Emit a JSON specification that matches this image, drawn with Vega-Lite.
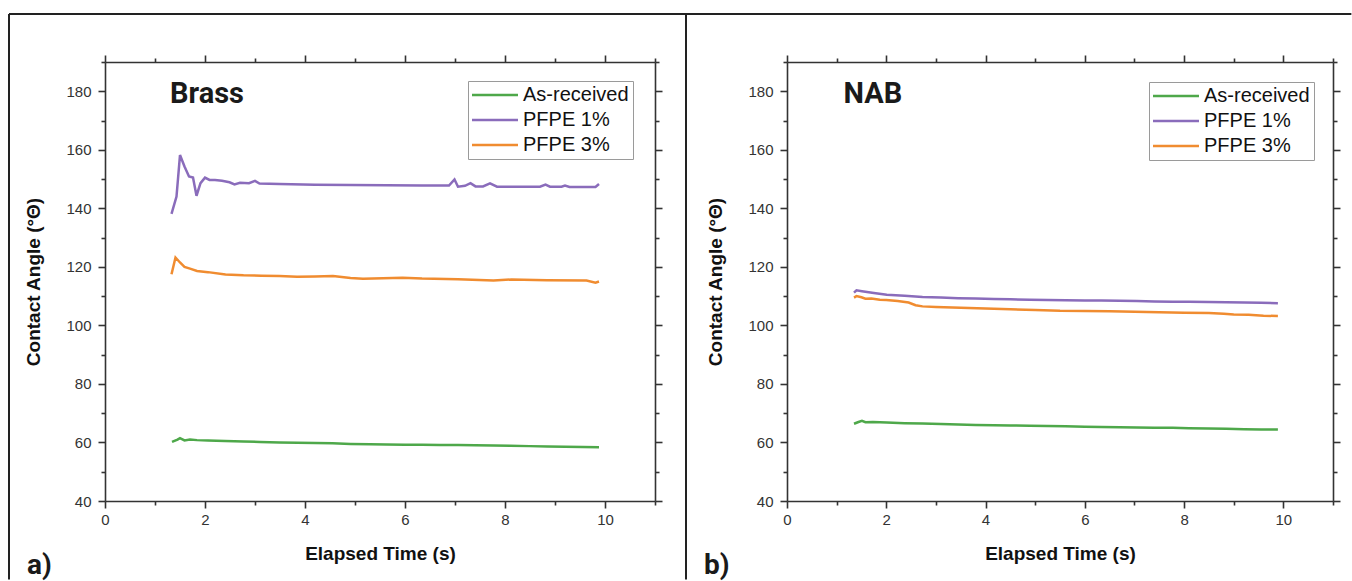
{
  "$schema": "https://vega.github.io/schema/vega-lite/v6.json",
  "background": "white",
  "padding": {"left": 8, "top": 13, "right": 0, "bottom": 0},
  "config": {
    "view": {"stroke": null},
    "font": "Liberation Sans",
    "axis": {
      "domainColor": "#333333", "domainWidth": 1.6, "tickColor": "#333333", "tickWidth": 1.6,
      "labelFont": "Liberation Sans", "labelFontSize": 15, "labelColor": "#333333",
      "titleFont": "Liberation Sans", "titleFontSize": 19, "titleFontWeight": "bold", "titleColor": "#111111",
      "grid": false, "labelFlush": false, "labelBound": false
    },
    "legend": {
      "orient": "none", "title": null, "symbolType": "M-5,0H5", "symbolSize": 84.6, "symbolStrokeWidth": 2.5,
      "symbolOffset": 13, "labelOffset": 18,
      "labelFont": "Liberation Sans", "labelFontSize": 20, "labelColor": "#111111",
      "strokeColor": "#9a9a9a", "fillColor": "white", "padding": 4, "rowPadding": 5
    }
  },
  "datasets": {
    "brass": [
      {"series": "As-received", "t": 1.34, "angle": 60.2}, {"series": "As-received", "t": 1.45, "angle": 61.0}, {"series": "As-received", "t": 1.5, "angle": 61.5}, {"series": "As-received", "t": 1.59, "angle": 60.7}, {"series": "As-received", "t": 1.7, "angle": 61.0}, {"series": "As-received", "t": 1.84, "angle": 60.8}, {"series": "As-received", "t": 2.06, "angle": 60.7}, {"series": "As-received", "t": 2.4, "angle": 60.5}, {"series": "As-received", "t": 2.77, "angle": 60.3}, {"series": "As-received", "t": 3.1, "angle": 60.2}, {"series": "As-received", "t": 3.49, "angle": 60.0}, {"series": "As-received", "t": 3.85, "angle": 59.9}, {"series": "As-received", "t": 4.2, "angle": 59.8}, {"series": "As-received", "t": 4.55, "angle": 59.7}, {"series": "As-received", "t": 4.91, "angle": 59.5}, {"series": "As-received", "t": 5.3, "angle": 59.4}, {"series": "As-received", "t": 5.63, "angle": 59.3}, {"series": "As-received", "t": 6.0, "angle": 59.25}, {"series": "As-received", "t": 6.34, "angle": 59.2}, {"series": "As-received", "t": 6.7, "angle": 59.15}, {"series": "As-received", "t": 7.06, "angle": 59.1}, {"series": "As-received", "t": 7.4, "angle": 59.05}, {"series": "As-received", "t": 7.77, "angle": 59.0}, {"series": "As-received", "t": 8.1, "angle": 58.9}, {"series": "As-received", "t": 8.49, "angle": 58.75}, {"series": "As-received", "t": 8.85, "angle": 58.6}, {"series": "As-received", "t": 9.2, "angle": 58.5}, {"series": "As-received", "t": 9.55, "angle": 58.45}, {"series": "As-received", "t": 9.88, "angle": 58.4},
      {"series": "PFPE 1%", "t": 1.33, "angle": 138.1}, {"series": "PFPE 1%", "t": 1.43, "angle": 144.0}, {"series": "PFPE 1%", "t": 1.5, "angle": 158.2}, {"series": "PFPE 1%", "t": 1.59, "angle": 154.3}, {"series": "PFPE 1%", "t": 1.68, "angle": 150.9}, {"series": "PFPE 1%", "t": 1.76, "angle": 150.5}, {"series": "PFPE 1%", "t": 1.83, "angle": 144.3}, {"series": "PFPE 1%", "t": 1.91, "angle": 148.6}, {"series": "PFPE 1%", "t": 2.0, "angle": 150.5}, {"series": "PFPE 1%", "t": 2.09, "angle": 149.7}, {"series": "PFPE 1%", "t": 2.2, "angle": 149.7}, {"series": "PFPE 1%", "t": 2.34, "angle": 149.4}, {"series": "PFPE 1%", "t": 2.49, "angle": 148.9}, {"series": "PFPE 1%", "t": 2.59, "angle": 148.2}, {"series": "PFPE 1%", "t": 2.7, "angle": 148.7}, {"series": "PFPE 1%", "t": 2.88, "angle": 148.6}, {"series": "PFPE 1%", "t": 3.0, "angle": 149.4}, {"series": "PFPE 1%", "t": 3.09, "angle": 148.5}, {"series": "PFPE 1%", "t": 3.49, "angle": 148.3}, {"series": "PFPE 1%", "t": 4.2, "angle": 148.1}, {"series": "PFPE 1%", "t": 4.91, "angle": 148.0}, {"series": "PFPE 1%", "t": 5.63, "angle": 147.9}, {"series": "PFPE 1%", "t": 6.34, "angle": 147.8}, {"series": "PFPE 1%", "t": 6.88, "angle": 147.8}, {"series": "PFPE 1%", "t": 6.99, "angle": 149.9}, {"series": "PFPE 1%", "t": 7.06, "angle": 147.4}, {"series": "PFPE 1%", "t": 7.2, "angle": 147.7}, {"series": "PFPE 1%", "t": 7.31, "angle": 148.6}, {"series": "PFPE 1%", "t": 7.41, "angle": 147.5}, {"series": "PFPE 1%", "t": 7.56, "angle": 147.5}, {"series": "PFPE 1%", "t": 7.7, "angle": 148.5}, {"series": "PFPE 1%", "t": 7.84, "angle": 147.4}, {"series": "PFPE 1%", "t": 8.13, "angle": 147.4}, {"series": "PFPE 1%", "t": 8.7, "angle": 147.4}, {"series": "PFPE 1%", "t": 8.81, "angle": 148.1}, {"series": "PFPE 1%", "t": 8.9, "angle": 147.4}, {"series": "PFPE 1%", "t": 9.13, "angle": 147.4}, {"series": "PFPE 1%", "t": 9.2, "angle": 147.8}, {"series": "PFPE 1%", "t": 9.29, "angle": 147.3}, {"series": "PFPE 1%", "t": 9.81, "angle": 147.3}, {"series": "PFPE 1%", "t": 9.88, "angle": 148.3},
      {"series": "PFPE 3%", "t": 1.33, "angle": 117.5}, {"series": "PFPE 3%", "t": 1.41, "angle": 123.2}, {"series": "PFPE 3%", "t": 1.5, "angle": 121.5}, {"series": "PFPE 3%", "t": 1.59, "angle": 120.0}, {"series": "PFPE 3%", "t": 1.7, "angle": 119.4}, {"series": "PFPE 3%", "t": 1.84, "angle": 118.6}, {"series": "PFPE 3%", "t": 2.06, "angle": 118.2}, {"series": "PFPE 3%", "t": 2.41, "angle": 117.4}, {"series": "PFPE 3%", "t": 2.77, "angle": 117.1}, {"series": "PFPE 3%", "t": 3.13, "angle": 117.0}, {"series": "PFPE 3%", "t": 3.49, "angle": 116.9}, {"series": "PFPE 3%", "t": 3.84, "angle": 116.6}, {"series": "PFPE 3%", "t": 4.2, "angle": 116.7}, {"series": "PFPE 3%", "t": 4.56, "angle": 116.9}, {"series": "PFPE 3%", "t": 4.91, "angle": 116.2}, {"series": "PFPE 3%", "t": 5.16, "angle": 115.9}, {"series": "PFPE 3%", "t": 5.56, "angle": 116.1}, {"series": "PFPE 3%", "t": 5.95, "angle": 116.3}, {"series": "PFPE 3%", "t": 6.34, "angle": 116.0}, {"series": "PFPE 3%", "t": 7.06, "angle": 115.8}, {"series": "PFPE 3%", "t": 7.77, "angle": 115.3}, {"series": "PFPE 3%", "t": 8.13, "angle": 115.7}, {"series": "PFPE 3%", "t": 8.84, "angle": 115.4}, {"series": "PFPE 3%", "t": 9.63, "angle": 115.3}, {"series": "PFPE 3%", "t": 9.81, "angle": 114.6}, {"series": "PFPE 3%", "t": 9.88, "angle": 115.0}
    ],
    "nab": [
      {"series": "As-received", "t": 1.35, "angle": 66.4}, {"series": "As-received", "t": 1.44, "angle": 67.0}, {"series": "As-received", "t": 1.51, "angle": 67.4}, {"series": "As-received", "t": 1.58, "angle": 66.9}, {"series": "As-received", "t": 1.73, "angle": 67.0}, {"series": "As-received", "t": 2.01, "angle": 66.8}, {"series": "As-received", "t": 2.37, "angle": 66.6}, {"series": "As-received", "t": 2.73, "angle": 66.5}, {"series": "As-received", "t": 3.1, "angle": 66.3}, {"series": "As-received", "t": 3.45, "angle": 66.1}, {"series": "As-received", "t": 3.8, "angle": 66.0}, {"series": "As-received", "t": 4.17, "angle": 65.9}, {"series": "As-received", "t": 4.5, "angle": 65.8}, {"series": "As-received", "t": 4.89, "angle": 65.7}, {"series": "As-received", "t": 5.25, "angle": 65.6}, {"series": "As-received", "t": 5.61, "angle": 65.5}, {"series": "As-received", "t": 6.0, "angle": 65.4}, {"series": "As-received", "t": 6.33, "angle": 65.3}, {"series": "As-received", "t": 6.7, "angle": 65.2}, {"series": "As-received", "t": 7.05, "angle": 65.1}, {"series": "As-received", "t": 7.4, "angle": 65.05}, {"series": "As-received", "t": 7.77, "angle": 65.0}, {"series": "As-received", "t": 8.1, "angle": 64.9}, {"series": "As-received", "t": 8.49, "angle": 64.8}, {"series": "As-received", "t": 8.85, "angle": 64.65}, {"series": "As-received", "t": 9.21, "angle": 64.5}, {"series": "As-received", "t": 9.55, "angle": 64.45}, {"series": "As-received", "t": 9.89, "angle": 64.4},
      {"series": "PFPE 1%", "t": 1.35, "angle": 111.2}, {"series": "PFPE 1%", "t": 1.4, "angle": 112.0}, {"series": "PFPE 1%", "t": 1.51, "angle": 111.7}, {"series": "PFPE 1%", "t": 1.75, "angle": 111.1}, {"series": "PFPE 1%", "t": 2.01, "angle": 110.5}, {"series": "PFPE 1%", "t": 2.37, "angle": 110.1}, {"series": "PFPE 1%", "t": 2.73, "angle": 109.7}, {"series": "PFPE 1%", "t": 3.1, "angle": 109.5}, {"series": "PFPE 1%", "t": 3.45, "angle": 109.3}, {"series": "PFPE 1%", "t": 3.8, "angle": 109.15}, {"series": "PFPE 1%", "t": 4.17, "angle": 109.0}, {"series": "PFPE 1%", "t": 4.5, "angle": 108.9}, {"series": "PFPE 1%", "t": 4.89, "angle": 108.8}, {"series": "PFPE 1%", "t": 5.25, "angle": 108.7}, {"series": "PFPE 1%", "t": 5.61, "angle": 108.6}, {"series": "PFPE 1%", "t": 6.0, "angle": 108.55}, {"series": "PFPE 1%", "t": 6.33, "angle": 108.5}, {"series": "PFPE 1%", "t": 6.7, "angle": 108.4}, {"series": "PFPE 1%", "t": 7.05, "angle": 108.3}, {"series": "PFPE 1%", "t": 7.4, "angle": 108.2}, {"series": "PFPE 1%", "t": 7.77, "angle": 108.1}, {"series": "PFPE 1%", "t": 8.1, "angle": 108.05}, {"series": "PFPE 1%", "t": 8.49, "angle": 108.0}, {"series": "PFPE 1%", "t": 8.85, "angle": 107.9}, {"series": "PFPE 1%", "t": 9.21, "angle": 107.8}, {"series": "PFPE 1%", "t": 9.55, "angle": 107.7}, {"series": "PFPE 1%", "t": 9.89, "angle": 107.6},
      {"series": "PFPE 3%", "t": 1.35, "angle": 109.5}, {"series": "PFPE 3%", "t": 1.4, "angle": 110.0}, {"series": "PFPE 3%", "t": 1.5, "angle": 109.6}, {"series": "PFPE 3%", "t": 1.58, "angle": 109.1}, {"series": "PFPE 3%", "t": 1.7, "angle": 109.2}, {"series": "PFPE 3%", "t": 1.87, "angle": 108.8}, {"series": "PFPE 3%", "t": 2.0, "angle": 108.7}, {"series": "PFPE 3%", "t": 2.23, "angle": 108.3}, {"series": "PFPE 3%", "t": 2.45, "angle": 107.8}, {"series": "PFPE 3%", "t": 2.59, "angle": 106.9}, {"series": "PFPE 3%", "t": 2.73, "angle": 106.5}, {"series": "PFPE 3%", "t": 3.0, "angle": 106.3}, {"series": "PFPE 3%", "t": 3.5, "angle": 106.0}, {"series": "PFPE 3%", "t": 4.0, "angle": 105.8}, {"series": "PFPE 3%", "t": 4.5, "angle": 105.5}, {"series": "PFPE 3%", "t": 5.0, "angle": 105.3}, {"series": "PFPE 3%", "t": 5.5, "angle": 105.0}, {"series": "PFPE 3%", "t": 6.0, "angle": 104.9}, {"series": "PFPE 3%", "t": 6.5, "angle": 104.8}, {"series": "PFPE 3%", "t": 7.0, "angle": 104.7}, {"series": "PFPE 3%", "t": 7.5, "angle": 104.5}, {"series": "PFPE 3%", "t": 8.0, "angle": 104.3}, {"series": "PFPE 3%", "t": 8.5, "angle": 104.2}, {"series": "PFPE 3%", "t": 8.8, "angle": 104.0}, {"series": "PFPE 3%", "t": 9.0, "angle": 103.7}, {"series": "PFPE 3%", "t": 9.3, "angle": 103.6}, {"series": "PFPE 3%", "t": 9.6, "angle": 103.3}, {"series": "PFPE 3%", "t": 9.89, "angle": 103.2}
    ]
  },
  "bounds": "flush",
  "spacing": 132,
  "resolve": {"legend": {"color": "independent"}},
  "hconcat": [
    {
      "width": 550,
      "height": 439,
      "layer": [
        {
          "data": {"name": "brass"},
          "mark": {"type": "line", "strokeWidth": 2.5},
          "encoding": {
            "x": {"field": "t", "type": "quantitative", "scale": {"domain": [0, 11], "nice": false},
              "axis": {"orient": "bottom", "title": "Elapsed Time (s)", "values": [0,1,2,3,4,5,6,7,8,9,10,11],
                "labelExpr": "datum.value % 2 === 0 ? datum.label : ''",
                "tickSize": {"condition": {"test": "datum.value % 2 !== 0", "value": 4}, "value": 7},
                "labelPadding": 4, "titlePadding": 17}},
            "y": {"field": "angle", "type": "quantitative", "scale": {"domain": [40, 190], "nice": false, "zero": false},
              "axis": {"orient": "left", "title": "Contact Angle (°Θ)", "values": [40,50,60,70,80,90,100,110,120,130,140,150,160,170,180,190],
                "labelExpr": "datum.value % 20 === 0 ? datum.label : ''",
                "tickSize": {"condition": {"test": "datum.value % 20 !== 0", "value": 4}, "value": 7},
                "labelPadding": 7, "titlePadding": 22}},
            "color": {"field": "series", "type": "nominal",
              "scale": {"domain": ["As-received", "PFPE 1%", "PFPE 3%"], "range": ["#4ea84a", "#8a6cbb", "#f08c30"]},
              "legend": {"legendX": 363, "legendY": 19}}
          }
        },
        {
          "data": {"values": [{}]},
          "mark": {"type": "text", "text": "Brass", "font": "Roboto", "fontSize": 29, "fontWeight": "bold", "align": "left", "baseline": "alphabetic", "color": "#1a1a1a"},
          "encoding": {
            "x": {"datum": 1.3, "type": "quantitative", "scale": {"domain": [0, 11], "nice": false},
              "axis": {"orient": "top", "title": null, "labels": false, "values": [0,1,2,3,4,5,6,7,8,9,10,11],
                "tickSize": {"condition": {"test": "datum.value % 2 !== 0", "value": 4}, "value": 7}}},
            "y": {"datum": 175.9, "type": "quantitative", "scale": {"domain": [40, 190], "nice": false, "zero": false},
              "axis": {"orient": "right", "title": null, "labels": false, "values": [40,50,60,70,80,90,100,110,120,130,140,150,160,170,180,190],
                "tickSize": {"condition": {"test": "datum.value % 20 !== 0", "value": 4}, "value": 7}}}
          }
        },
        {
          "data": {"values": [{}]},
          "mark": {"type": "rule", "color": "#222222", "strokeWidth": 2},
          "encoding": {
            "x": {"datum": -1.92, "type": "quantitative", "axis": null},
            "x2": {"datum": 11.62},
            "y": {"datum": 206.4, "type": "quantitative", "axis": null}
          }
        },
        {
          "data": {"values": [{}]},
          "mark": {"type": "rule", "color": "#222222", "strokeWidth": 2},
          "encoding": {
            "x": {"datum": -1.92, "type": "quantitative", "axis": null},
            "y": {"datum": 206.4, "type": "quantitative", "axis": null},
            "y2": {"datum": 13.2}
          }
        },
        {
          "data": {"values": [{}]},
          "mark": {"type": "rule", "color": "#222222", "strokeWidth": 2},
          "encoding": {
            "x": {"datum": 11.62, "type": "quantitative", "axis": null},
            "y": {"datum": 206.4, "type": "quantitative", "axis": null},
            "y2": {"datum": 13.2}
          }
        },
        {
          "data": {"values": [{}]},
          "mark": {"type": "text", "text": "a)", "font": "Roboto", "fontSize": 28, "fontWeight": "bold", "align": "left", "baseline": "alphabetic", "color": "#1a1a1a"},
          "encoding": {
            "x": {"datum": -1.56, "type": "quantitative", "axis": null},
            "y": {"datum": 15.2, "type": "quantitative", "axis": null}
          }
        }
      ],
      "resolve": {"axis": {"x": "independent", "y": "independent"}}
    },
    {
      "width": 546,
      "height": 439,
      "layer": [
        {
          "data": {"name": "nab"},
          "mark": {"type": "line", "strokeWidth": 2.5},
          "encoding": {
            "x": {"field": "t", "type": "quantitative", "scale": {"domain": [0, 11], "nice": false},
              "axis": {"orient": "bottom", "title": "Elapsed Time (s)", "values": [0,1,2,3,4,5,6,7,8,9,10,11],
                "labelExpr": "datum.value % 2 === 0 ? datum.label : ''",
                "tickSize": {"condition": {"test": "datum.value % 2 !== 0", "value": 4}, "value": 7},
                "labelPadding": 4, "titlePadding": 17}},
            "y": {"field": "angle", "type": "quantitative", "scale": {"domain": [40, 190], "nice": false, "zero": false},
              "axis": {"orient": "left", "title": "Contact Angle (°Θ)", "values": [40,50,60,70,80,90,100,110,120,130,140,150,160,170,180,190],
                "labelExpr": "datum.value % 20 === 0 ? datum.label : ''",
                "tickSize": {"condition": {"test": "datum.value % 20 !== 0", "value": 4}, "value": 7},
                "labelPadding": 7, "titlePadding": 22}},
            "color": {"field": "series", "type": "nominal",
              "scale": {"domain": ["As-received", "PFPE 1%", "PFPE 3%"], "range": ["#4ea84a", "#8a6cbb", "#f08c30"]},
              "legend": {"legendX": 362, "legendY": 20}}
          }
        },
        {
          "data": {"values": [{}]},
          "mark": {"type": "text", "text": "NAB", "font": "Roboto", "fontSize": 29, "fontWeight": "bold", "align": "left", "baseline": "alphabetic", "color": "#1a1a1a"},
          "encoding": {
            "x": {"datum": 1.14, "type": "quantitative", "scale": {"domain": [0, 11], "nice": false},
              "axis": {"orient": "top", "title": null, "labels": false, "values": [0,1,2,3,4,5,6,7,8,9,10,11],
                "tickSize": {"condition": {"test": "datum.value % 2 !== 0", "value": 4}, "value": 7}}},
            "y": {"datum": 175.9, "type": "quantitative", "scale": {"domain": [40, 190], "nice": false, "zero": false},
              "axis": {"orient": "right", "title": null, "labels": false, "values": [40,50,60,70,80,90,100,110,120,130,140,150,160,170,180,190],
                "tickSize": {"condition": {"test": "datum.value % 20 !== 0", "value": 4}, "value": 7}}}
          }
        },
        {
          "data": {"values": [{}]},
          "mark": {"type": "rule", "color": "#222222", "strokeWidth": 2},
          "encoding": {
            "x": {"datum": -2.04, "type": "quantitative", "axis": null},
            "x2": {"datum": 11.37},
            "y": {"datum": 206.4, "type": "quantitative", "axis": null}
          }
        },
        {
          "data": {"values": [{}]},
          "mark": {"type": "text", "text": "b)", "font": "Roboto", "fontSize": 28, "fontWeight": "bold", "align": "left", "baseline": "alphabetic", "color": "#1a1a1a"},
          "encoding": {
            "x": {"datum": -1.67, "type": "quantitative", "axis": null},
            "y": {"datum": 15.2, "type": "quantitative", "axis": null}
          }
        }
      ],
      "resolve": {"axis": {"x": "independent", "y": "independent"}}
    }
  ]
}
